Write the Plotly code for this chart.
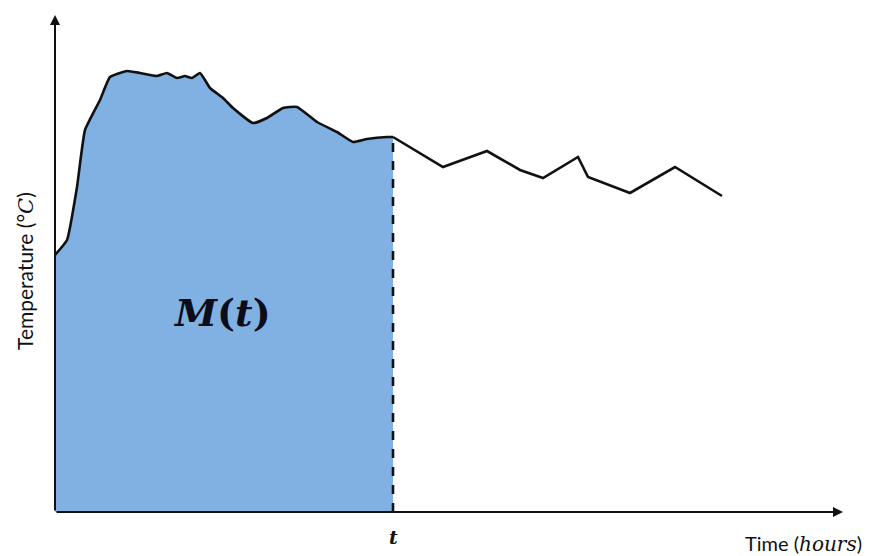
import plotly.graph_objects as go

# Time (hours) and temperature (°C) (arbitrary units)
time_filled = [0, 0.6, 1.1, 1.5, 2.25, 2.75, 3.6, 4.25, 5.1, 5.6, 6.1, 6.5, 6.85, 7.25,
               7.75, 8.4, 8.9, 9.9, 10.6, 11.4, 12.1, 13.1, 14.1, 14.9, 15.6, 16.6, 16.9]
temp_filled = [25.7, 27.2, 32.5, 38.2, 41.2, 43.5, 44.1, 43.9, 43.6, 43.9, 43.4, 43.6, 43.4, 43.9,
               42.4, 41.4, 40.4, 38.9, 39.4, 40.4, 40.5, 39.0, 38.0, 37.0, 37.3, 37.5, 37.5]
time_rest = [16.9, 19.4, 21.6, 23.25, 24.4, 26.15, 26.65, 28.75, 31.0, 33.35]
temp_rest = [37.5, 34.5, 36.1, 34.2, 33.4, 35.5, 33.5, 31.9, 34.5, 31.6]
t_mark = 16.9
x_max = 39.4
y_max = 49.7

fig = go.Figure()
fig.add_trace(go.Scatter(x=time_filled, y=temp_filled, mode="lines", fill="tozeroy",
                         fillcolor="#80b1e2", line=dict(color="#111111", width=2.6, shape="spline", smoothing=0.4)))
fig.add_trace(go.Scatter(x=time_rest, y=temp_rest, mode="lines",
                         line=dict(color="#111111", width=2.6)))
fig.add_trace(go.Scatter(x=[t_mark, t_mark], y=[0, temp_filled[-1]], mode="lines",
                         line=dict(color="#111111", width=2.6, dash="dash")))

annotations = [
    # x axis arrow
    dict(x=x_max, y=0, ax=0, ay=0, xref="x", yref="y", axref="x", ayref="y",
         showarrow=True, arrowhead=2, arrowsize=1, arrowwidth=2, arrowcolor="#111111", text=""),
    # y axis arrow
    dict(x=0, y=y_max, ax=0, ay=0, xref="x", yref="y", axref="x", ayref="y",
         showarrow=True, arrowhead=2, arrowsize=1, arrowwidth=2, arrowcolor="#111111", text=""),
    dict(x=t_mark, y=0, xref="x", yref="y", yshift=-25, showarrow=False,
         text="<b><i>t</i></b>", font=dict(family="DejaVu Serif", size=19, color="#111111")),
    dict(x=1.0, y=0, xref="paper", yref="y", xanchor="center", yshift=-31, xshift=-40,
         showarrow=False,
         text="Time (<span style='font-family:DejaVu Serif'><i>hours</i></span>)",
         font=dict(family="Lato", size=20, color="#111111")),
    dict(x=0, y=0.485, xref="paper", yref="paper", xanchor="center", yanchor="middle",
         xshift=-30, textangle=-90, showarrow=False,
         text="Temperature (°<span style='font-family:DejaVu Serif'><i>C</i></span>)",
         font=dict(family="Lato", size=21, color="#111111")),
    dict(x=8.35, y=20.0, xref="x", yref="y", showarrow=False,
         text="<b><i>M</i>(<i>t</i>)</b>", font=dict(family="DejaVu Serif", size=38, color="#0d0d1a")),
]

fig.update_layout(
    width=876, height=556,
    margin=dict(l=55, r=33, t=15, b=44),
    paper_bgcolor="white", plot_bgcolor="white",
    showlegend=False,
    xaxis=dict(range=[0, x_max], visible=False),
    yaxis=dict(range=[0, y_max], visible=False),
    annotations=annotations,
)
fig.write_html("out.html", config={"displayModeBar": False},
               post_script="document.body.style.margin='0';")
